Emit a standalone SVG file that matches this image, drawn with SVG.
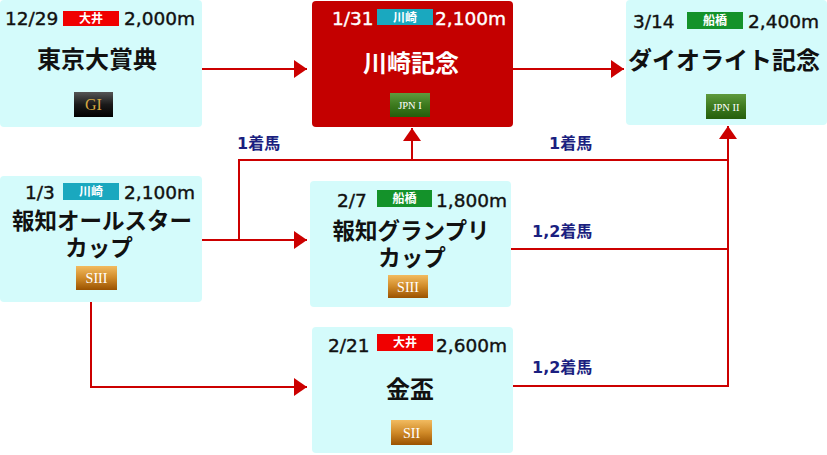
<svg xmlns="http://www.w3.org/2000/svg" width="827" height="455" viewBox="0 0 827 455">
<style>
.box{fill:#d4fbfb}
.hd{font-family:"DejaVu Sans","Liberation Sans",sans-serif;font-size:18.5px;fill:#111;stroke:#111;stroke-width:0.4}
.hdw{fill:#fff;stroke:#fff}
.bt{font-family:"Noto Sans CJK JP",sans-serif;font-size:12px;font-weight:bold;fill:#fff;text-anchor:middle}
.ti{font-family:"Noto Sans CJK JP",sans-serif;font-size:24px;font-weight:bold;fill:#111;text-anchor:middle}
.ti2{font-size:22.5px}
.gr{font-family:"Liberation Serif",serif;fill:#fff;text-anchor:middle}
.ln{fill:none;stroke:#cc0000;stroke-width:2}
.lb{font-family:"DejaVu Sans","Noto Sans CJK JP",sans-serif;font-size:16px;font-weight:bold;fill:#1b1f80}
</style>
<defs>
<marker id="ah" viewBox="0 0 13 18" refX="13" refY="9" markerWidth="13" markerHeight="18" markerUnits="userSpaceOnUse" orient="auto">
<path d="M0,0 L13,9 L0,18 Z" fill="#cc0000"/>
</marker>
<linearGradient id="gBlack" x1="0" y1="0" x2="0" y2="1"><stop offset="0" stop-color="#555"/><stop offset="0.5" stop-color="#1a1a1a"/><stop offset="1" stop-color="#000"/></linearGradient>
<linearGradient id="gGreen" x1="0" y1="0" x2="0" y2="1"><stop offset="0" stop-color="#5f9a3e"/><stop offset="0.5" stop-color="#3d7a1e"/><stop offset="1" stop-color="#255e0c"/></linearGradient>
<linearGradient id="gOrange" x1="0" y1="0" x2="0" y2="1"><stop offset="0" stop-color="#f2bb60"/><stop offset="0.5" stop-color="#d08a28"/><stop offset="1" stop-color="#9a5200"/></linearGradient>
</defs>

<g id="connectors">
<path class="ln" d="M202,69 H307" marker-end="url(#ah)"/>
<path class="ln" d="M513,69 H624" marker-end="url(#ah)"/>
<path class="ln" d="M202,240 H307" marker-end="url(#ah)"/>
<path class="ln" d="M239,240 V160 H728"/>
<path class="ln" d="M412,160 V128" marker-end="url(#ah)"/>
<path class="ln" d="M728,387 V126" marker-end="url(#ah)"/>
<path class="ln" d="M511,249 H728"/>
<path class="ln" d="M513,386 H729"/>
<path class="ln" d="M91,302 V387 H307" marker-end="url(#ah)"/>
<text class="lb" x="237" y="149">1着馬</text>
<text class="lb" x="549" y="149">1着馬</text>
<text class="lb" x="532" y="237">1,2着馬</text>
<text class="lb" x="532" y="373">1,2着馬</text>
</g>

<g id="tokyo-daishoten">
<rect class="box" x="0" y="0" width="202" height="127" rx="4"/>
<text class="hd" x="5" y="25">12/29</text>
<rect x="63" y="11" width="56" height="15" fill="#f00000"/>
<text class="bt" x="91" y="23">大井</text>
<text class="hd" x="124" y="25">2,000m</text>
<text class="ti" x="97" y="68">東京大賞典</text>
<rect x="74" y="92" width="39" height="25" fill="url(#gBlack)"/>
<text class="gr" x="93.5" y="110" font-size="16" style="fill:#d4a640">GI</text>
</g>

<g id="kawasaki-kinen">
<rect x="312" y="1" width="201" height="126" rx="4" fill="#c40000"/>
<text class="hd hdw" x="332" y="25">1/31</text>
<rect x="377" y="9" width="56" height="16" fill="#1aa8bf"/>
<text class="bt" x="405" y="21.5">川崎</text>
<text class="hd hdw" x="435" y="25">2,100m</text>
<text class="ti" x="411" y="72" style="fill:#fff">川崎記念</text>
<rect x="390" y="93" width="40" height="24" fill="url(#gGreen)"/>
<text class="gr" x="410" y="109" font-size="10.5">JPN I</text>
</g>

<g id="diolite-kinen">
<rect class="box" x="626" y="0" width="201" height="125" rx="4"/>
<text class="hd" x="633" y="28">3/14</text>
<rect x="687" y="12" width="56" height="17" fill="#14922a"/>
<text class="bt" x="715" y="25">船橋</text>
<text class="hd" x="748" y="28">2,400m</text>
<text class="ti" x="724" y="69">ダイオライト記念</text>
<rect x="706" y="94" width="40" height="25" fill="url(#gGreen)"/>
<text class="gr" x="726" y="110.5" font-size="10.5">JPN II</text>
</g>

<g id="hochi-allstar-cup">
<rect class="box" x="0" y="176" width="202" height="126" rx="4"/>
<text class="hd" x="25" y="199">1/3</text>
<rect x="63" y="183" width="56" height="17" fill="#1aa8bf"/>
<text class="bt" x="91" y="196">川崎</text>
<text class="hd" x="124" y="199">2,100m</text>
<text class="ti ti2" x="102" y="229">報知オールスター</text>
<text class="ti ti2" x="99" y="256">カップ</text>
<rect x="76" y="266" width="41" height="24" fill="url(#gOrange)"/>
<text class="gr" x="96.5" y="283" font-size="14">SIII</text>
</g>

<g id="hochi-grandprix-cup">
<rect class="box" x="310" y="181" width="201" height="126" rx="4"/>
<text class="hd" x="337" y="207">2/7</text>
<rect x="377" y="190" width="55" height="17" fill="#14922a"/>
<text class="bt" x="404.5" y="203">船橋</text>
<text class="hd" x="436" y="207">1,800m</text>
<text class="ti ti2" x="411" y="239">報知グランプリ</text>
<text class="ti ti2" x="412" y="266">カップ</text>
<rect x="388" y="275" width="40" height="23" fill="url(#gOrange)"/>
<text class="gr" x="408" y="291.5" font-size="14">SIII</text>
</g>

<g id="kinpai">
<rect class="box" x="312" y="327" width="201" height="126" rx="4"/>
<text class="hd" x="328" y="352">2/21</text>
<rect x="377" y="334" width="56" height="17" fill="#f00000"/>
<text class="bt" x="405" y="347">大井</text>
<text class="hd" x="436" y="352">2,600m</text>
<text class="ti" x="410" y="398">金盃</text>
<rect x="391" y="420" width="41" height="25" fill="url(#gOrange)"/>
<text class="gr" x="411.5" y="437.5" font-size="14">SII</text>
</g>
</svg>
